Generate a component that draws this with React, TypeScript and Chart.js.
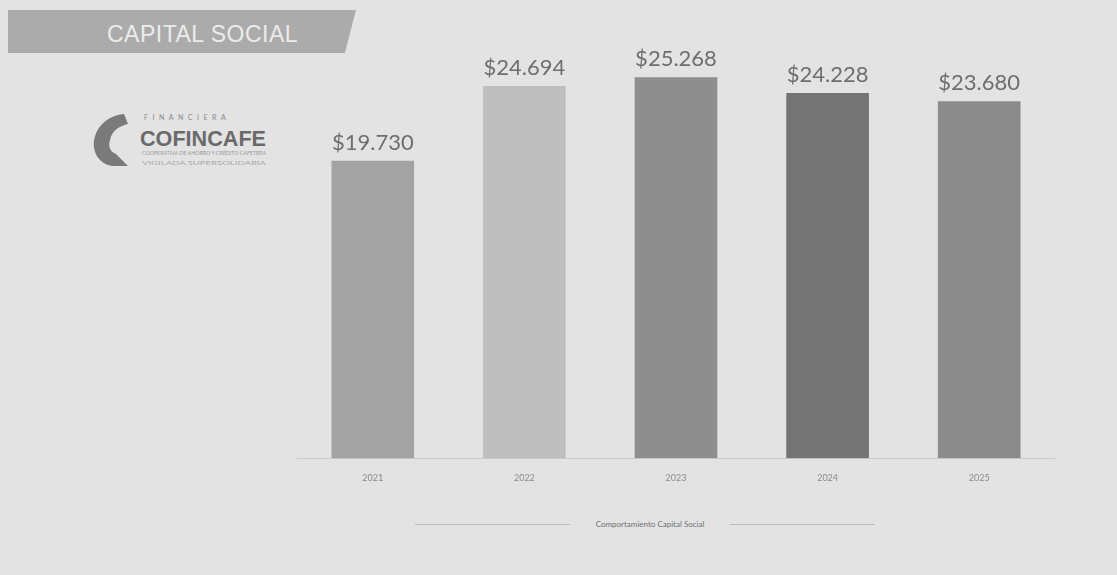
import React, { useEffect, useRef } from "react";
import Chart from "chart.js/auto";

const years = ["2021", "2022", "2023", "2024", "2025"];
const capitalSocial = [19730, 24694, 25268, 24228, 23680];
const valueLabels = ["$19.730", "$24.694", "$25.268", "$24.228", "$23.680"];
const barColors = ["#a3a3a3", "#bebebe", "#8e8e8e", "#747474", "#8b8b8b"];
const titleText = "CAPITAL SOCIAL";
const legendText = "Comportamiento Capital Social";

const valueLabelPlugin = {
  id: "valueLabels",
  afterDatasetsDraw(chart: any) {
    const ctx = chart.ctx;
    const meta = chart.getDatasetMeta(0);
    ctx.save();
    ctx.font = "22px Lato, 'Open Sans', sans-serif";
    ctx.fillStyle = "#6e6e6e";
    ctx.textAlign = "center";
    ctx.textBaseline = "bottom";
    meta.data.forEach((bar: any, i: number) => {
      ctx.fillText(valueLabels[i], bar.x, bar.y - 7);
    });
    ctx.restore();
  },
};

function BarChart() {
  const ref = useRef<HTMLCanvasElement | null>(null);
  useEffect(() => {
    if (!ref.current) return;
    const chart = new Chart(ref.current, {
      type: "bar",
      data: {
        labels: years,
        datasets: [
          {
            label: "Capital Social",
            data: capitalSocial,
            backgroundColor: barColors,
            borderWidth: 0,
            categoryPercentage: 1,
            barPercentage: 0.545,
          },
        ],
      },
      options: {
        animation: false,
        responsive: false,
        maintainAspectRatio: false,
        layout: { padding: { top: 6, left: 0, right: 0, bottom: 0 } },
        plugins: { legend: { display: false }, tooltip: { enabled: false } },
        scales: {
          x: {
            grid: { display: false, drawTicks: false },
            border: { display: true, color: "#cacaca", width: 1 },
            ticks: {
              color: "#8a8a8a",
              font: { size: 9, family: "Lato, sans-serif" },
              padding: 14,
            },
          },
          y: {
            display: false,
            min: 0,
            max: 30000,
          },
        },
      },
      plugins: [valueLabelPlugin],
    });
    return () => chart.destroy();
  }, []);
  return (
    <canvas
      ref={ref}
      width={758}
      height={497}
      style={{ position: "absolute", left: 297, top: 0, width: 758, height: 497 }}
    />
  );
}

function Logo() {
  return (
    <svg width={200} height={80} style={{ position: "absolute", left: 80, top: 100 }}>
      <path
        d="M 44 14 C 22 16, 12 34, 14 48 C 16 60, 26 66, 34 66 L 48 66 L 36 54 C 30 52, 28 46, 30 40 C 32 30, 40 26, 48 24 Z"
        fill="#7a7a7a"
      />
      <text x={64} y={20} fontSize={7} fill="#8a8a8a" letterSpacing={4.5} fontFamily="Lato, sans-serif">
        FINANCIERA
      </text>
      <text x={60} y={46} fontSize={22} fontWeight="bold" fill="#6a6a6a" fontFamily="'Liberation Sans Narrow', 'Liberation Sans', sans-serif" textLength={126} lengthAdjust="spacingAndGlyphs">
        COFINCAFE
      </text>
      <text x={62} y={55} fontSize={5} fill="#9a9a9a" fontFamily="Lato, sans-serif" textLength={124} lengthAdjust="spacingAndGlyphs">
        COOPERATIVA DE AHORRO Y CRÉDITO CAFETERA
      </text>
      <text x={62} y={65} fontSize={5} fill="#a8a8a8" fontFamily="Lato, sans-serif" textLength={124} lengthAdjust="spacingAndGlyphs">
        VIGILADA SUPERSOLIDARIA
      </text>
    </svg>
  );
}

export default function App() {
  return (
    <div
      style={{
        position: "absolute",
        left: 0,
        top: 0,
        width: 1117,
        height: 575,
        background: "#e3e3e3",
        overflow: "hidden",
        fontFamily: "Lato, sans-serif",
      }}
    >
      <div
        style={{
          position: "absolute",
          left: 8,
          top: 10,
          width: 348,
          height: 43,
          background: "#ababab",
          clipPath: "polygon(0 0, 100% 0, 96.8% 100%, 0 100%)",
        }}
      />
      <div
        style={{
          position: "absolute",
          left: 95,
          top: 21,
          width: 215,
          textAlign: "center",
          color: "#ececec",
          fontSize: 23,
          fontFamily: "'Liberation Sans Narrow', 'Liberation Sans', sans-serif",
          letterSpacing: 0.5,
          lineHeight: "26px",
        }}
      >
        {titleText}
      </div>
      <Logo />
      <BarChart />
      <div
        style={{
          position: "absolute",
          left: 415,
          top: 524,
          width: 460,
          height: 1,
          background: "#bdbdbd",
        }}
      />
      <div
        style={{
          position: "absolute",
          left: 570,
          top: 518,
          width: 160,
          height: 12,
          background: "#e3e3e3",
          textAlign: "center",
          fontSize: 8,
          lineHeight: "12px",
          color: "#707070",
        }}
      >
        {legendText}
      </div>
    </div>
  );
}
